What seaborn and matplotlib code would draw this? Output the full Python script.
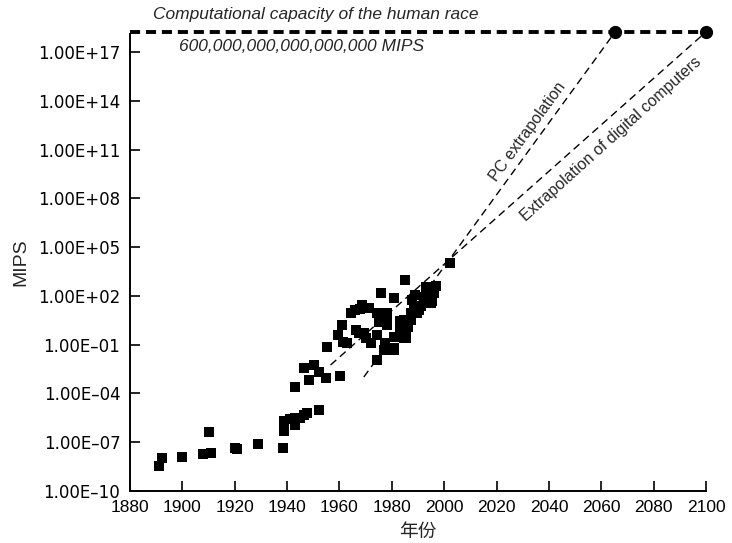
import numpy as np
import pandas as pd
import matplotlib
matplotlib.use('Agg')
import matplotlib.pyplot as plt
from matplotlib.ticker import FuncFormatter, FixedLocator
import seaborn as sns

# computing power history (year, log10 MIPS)
years = [1891.2, 1892.2, 1900, 1908, 1911, 1910, 1920, 1921, 1929, 1938.3,
         1939, 1939, 1941, 1943, 1943, 1945, 1946.5, 1947.5, 1952, 1943,
         1948.4, 1946.5, 1950.3, 1952.2, 1954.7, 1960.2, 1955.1, 1959.4, 1961.1, 1964.3,
         1963, 1961.5, 1966.2, 1967.5, 1968.7, 1971.2, 1974.4, 1969.3, 1971.9, 1970,
         1974.4, 1978.3, 1978, 1974.4, 1977, 1980.8, 1977.5, 1980.8, 1983.3, 1984.5,
         1985.3, 1987.2, 1989.7, 1993.5, 1995.5, 1986, 1983, 1976, 1984.9, 1981,
         1989, 1992.9, 1996.7, 1996, 1994.8, 1991, 1992.3, 1987.8, 1989.7, 1987.2,
         1985.3, 1984.6, 2002.1, 1980.8, 1978.3, 1975.1, 1966, 1968, 1988.5, 1990.5]
log_mips = [-8.5, -8.0, -7.9, -7.75, -7.65, -6.4, -7.4, -7.45, -7.1, -7.35,
            -6.3, -5.7, -5.6, -5.95, -5.5, -5.55, -5.35, -5.2, -5.0, -3.6,
            -3.2, -2.46, -2.26, -2.67, -3.08, -2.94, -1.17, -0.41, 0.2, 0.96,
            -0.89, -0.85, -0.1, -0.3, 1.43, 1.23, 0.96, -0.31, -0.92, -0.6,
            -0.41, 0.82, 0.2, -1.95, -1.33, -1.33, -0.9, -0.52, -0.1, 0.5,
            -0.62, 0.92, 1.33, 1.54, 1.7, 0.1, 0.45, 2.19, 2.97, 1.88,
            2.05, 2.56, 2.6, 2.16, 1.54, 1.4, 1.95, 1.74, 0.92, 0.51,
            -0.1, -0.62, 4.04, -1.23, 0.92, 0.41, 1.1, 1.2, 1.3, 1.1]

# level of the "human race" line as drawn in the chart
capacity_level = 10 ** 18.25
pc_line_years = [1969.3, 2065.3]
pc_line_start = 1e-3
digital_line_years = [1956.6, 2100]
digital_line_start = 10 ** -2.26

ytick_exps = [-10, -7, -4, -1, 2, 5, 8, 11, 14, 17]
xticks = list(range(1880, 2101, 20))

df = pd.DataFrame({'year': years, 'mips': [10 ** v for v in log_mips]})

sns.set_style('ticks')
plt.rcParams['font.family'] = ['Liberation Sans', 'Noto Sans CJK SC', 'DejaVu Sans']

fig = plt.figure(figsize=(7.32, 5.43), dpi=100)
ax = fig.add_axes([0.1776, 0.0963, 0.7869, 0.8409])

sns.scatterplot(data=df, x='year', y='mips', marker='s', color='black',
                s=50, linewidth=0, ax=ax, zorder=3)

ax.set_yscale('log')
ax.set_xlim(1880, 2100)
ax.set_ylim(1e-10, 1.3e18)

# extrapolation lines
ax.plot(pc_line_years, [pc_line_start, capacity_level], color='black',
        lw=1.0, dashes=(5.5, 3.5), clip_on=False)
ax.plot(digital_line_years, [digital_line_start, capacity_level], color='black',
        lw=1.0, dashes=(5.5, 3.5), clip_on=False)

# human race capacity
ax.plot([1880, 2102], [capacity_level, capacity_level], color='black',
        lw=2.8, dashes=(2.6, 1.5), clip_on=False)
ax.plot([pc_line_years[1], digital_line_years[1]], [capacity_level, capacity_level],
        'o', color='black', ms=8.5, clip_on=False, zorder=4)

ax.text(1888.7, 10 ** 19.35, 'Computational capacity of the human race',
        fontsize=12.5, style='italic', ha='left', va='center')
ax.text(1898.6, 10 ** 17.38, '600,000,000,000,000,000 MIPS',
        fontsize=12.5, style='italic', ha='left', va='center')
ax.text(2031.8, 10 ** 12.09, 'PC extrapolation', fontsize=11.5, rotation=54,
        ha='center', va='center', rotation_mode='anchor')
ax.text(2063.8, 10 ** 11.65, 'Extrapolation of digital computers', fontsize=11.5,
        rotation=42, ha='center', va='center', rotation_mode='anchor')

ax.yaxis.set_major_locator(FixedLocator([10.0 ** e for e in ytick_exps]))
ax.yaxis.set_minor_locator(FixedLocator([]))
ax.yaxis.set_major_formatter(FuncFormatter(
    lambda v, p: ('1.00E%+03d' % round(np.log10(v))).replace('-', '\u2013')))
ax.set_xticks(xticks)

ax.tick_params(axis='both', direction='in', length=7, width=1.2,
               colors='black')
ax.tick_params(axis='x', labelsize=12.5, pad=7)
ax.tick_params(axis='y', labelsize=12, pad=7)
for lab in ax.get_yticklabels():
    lab.set_fontfamily('DejaVu Sans')
for s in ['top', 'right']:
    ax.spines[s].set_visible(False)
for s in ['left', 'bottom']:
    ax.spines[s].set_linewidth(1.4)
    ax.spines[s].set_color('black')

ax.set_xlabel('年份', fontsize=13.5, labelpad=6)
ax.set_ylabel('MIPS', fontsize=14, labelpad=6)

fig.savefig('out.png', dpi=100)
